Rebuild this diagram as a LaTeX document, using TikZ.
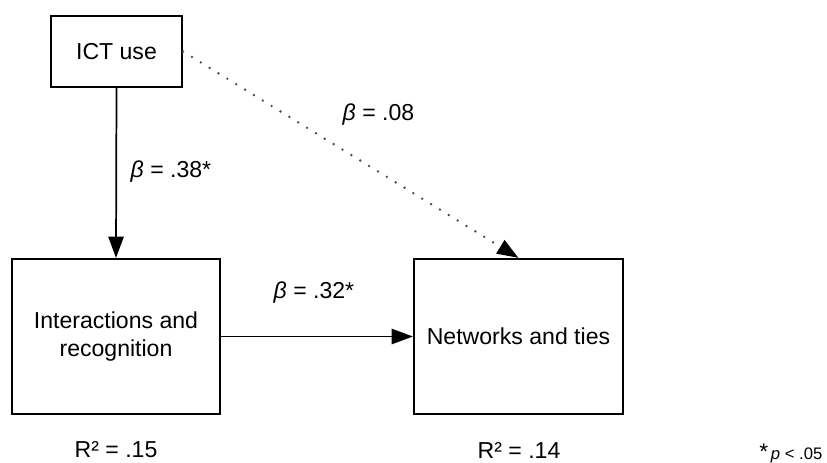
\documentclass[tikz,border=0pt]{standalone}
\usepackage{fontspec}
\setmainfont{Liberation Sans}
\usetikzlibrary{arrows.meta}

\begin{document}
\begin{tikzpicture}[x=0.75pt,y=-0.75pt,
		box/.style={draw,line width=1.6pt,align=center,font=\fontsize{17.3}{20.5}\selectfont},
		lab/.style={font=\fontsize{17.3}{20.5}\selectfont},
		arr/.style={line width=1.3pt,-{Triangle[length=16pt,width=11.5pt,color=black]}}]
			\useasboundingbox (0,0) rectangle (827,463);
			\node[box,minimum width=98.25pt,minimum height=53.25pt] (ict) at (116.5,51.5) {ICT use};
			\node[box,minimum width=156pt,minimum height=116.25pt] (inter) at (116,336.5) {Interactions and\\recognition};
			\node[box,minimum width=156.75pt,minimum height=116.25pt] (net) at (518.5,336.5) {Networks and ties};
			\draw[arr] (ict.south) -- (inter.north);
			\draw[arr] (inter.east) -- (net.west);
			\draw[arr,black!70,line width=2pt,line cap=round,dash pattern=on 0pt off 7.8pt] (ict.east) -- (net.north);
			\node[lab,anchor=west] (b1) at (126,172) {{\itshape β} = .38*};
			\node[lab,anchor=west] (b2) at (338,115) {{\itshape β} = .08};
			\node[lab,anchor=west] (b3) at (269,293) {{\itshape β} = .32*};
			\node[lab] (r1) at (116,450) {R² = .15};
			\node[lab] (r2) at (519,450) {R² = .14};
			\node[anchor=east,font=\fontsize{12.5}{14}\selectfont] (pv) at (827,453) {{\fontsize{17}{17}\selectfont *}\,{\itshape p} < .05};
		\end{tikzpicture}
\end{document}
